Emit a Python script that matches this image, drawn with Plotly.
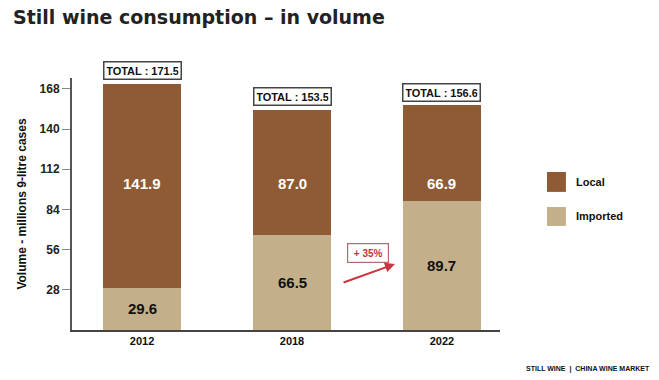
import plotly.graph_objects as go

years = ["2012", "2018", "2022"]
local = [141.9, 87.0, 66.9]
imported = [29.6, 66.5, 89.7]
totals = [171.5, 153.5, 156.6]
series_names = ["Local", "Imported"]
y_ticks = [28, 56, 84, 112, 140, 168]

C_LOCAL = "#8f5b34"
C_IMP = "#c3b08b"
FONT = "Liberation Sans"

fig = go.Figure()
fig.add_trace(go.Bar(x=years, y=imported, name=series_names[1], marker=dict(color=C_IMP, line=dict(width=0))))
fig.add_trace(go.Bar(x=years, y=local, name=series_names[0], marker=dict(color=C_LOCAL, line=dict(width=0))))

ann = []
for i, y in enumerate(years):
    # imported value (centered in segment)
    ann.append(dict(x=i, y=imported[i] / 2, xref="x", yref="y", text=f"{imported[i]:.1f}", showarrow=False,
                    font=dict(family=FONT, size=15, color="#111", weight="bold")))
    # local value (aligned row)
    ann.append(dict(x=i, y=102, xref="x", yref="y", text=f"{local[i]:.1f}", showarrow=False,
                    font=dict(family=FONT, size=15, color="white", weight="bold")))
    # totals box
    ann.append(dict(x=i, y=totals[i], xref="x", yref="y", yshift=13, text=f"TOTAL : {totals[i]:.1f}",
                    showarrow=False, font=dict(family=FONT, size=11, color="#111", weight="bold"),
                    bordercolor="#444", borderwidth=1.5, borderpad=2, bgcolor="white", width=72, height=12))

growth = round((imported[2] / imported[1] - 1) * 100)
ann.append(dict(x=1.51, y=54, xref="x", yref="y", text=f"+ {growth}%", showarrow=False,
                font=dict(family=FONT, size=10, color="#c0363f", weight="bold"),
                bordercolor="#b8676d", borderwidth=1.2, borderpad=3, bgcolor="white", width=34, height=12))
ann.append(dict(x=1.687, y=46, xref="x", yref="y", ax=-53, ay=19, text="", showarrow=True,
                arrowhead=2, arrowsize=1, arrowwidth=2, arrowcolor="#c9363f"))

# legend
shapes = []
leg = [(series_names[0], C_LOCAL, 0.627, 0.548), (series_names[1], C_IMP, 0.488, 0.413)]
for name, col, y0, y1 in leg:
    shapes.append(dict(type="rect", xref="paper", yref="paper", x0=1.1098, x1=1.154, y0=y1, y1=y0,
                       fillcolor=col, line=dict(width=0)))
    ann.append(dict(x=1.173, y=(y0 + y1) / 2, xref="paper", yref="paper", xanchor="left", text=name,
                    showarrow=False, font=dict(family=FONT, size=11, color="#111", weight="bold")))

ann.append(dict(x=(652 - 72) / 428, y=(330 - 369) / 252, xref="paper", yref="paper",
                text="STILL WINE  |  CHINA WINE MARKET",
                showarrow=False, xanchor="right", yanchor="middle",
                font=dict(family=FONT, size=7, color="#111", weight="bold")))

fig.update_layout(
    width=659, height=380,
    margin=dict(l=72, r=159, t=78, b=50, autoexpand=False),
    paper_bgcolor="white", plot_bgcolor="white",
    barmode="stack", bargap=0.48, showlegend=False,
    title=dict(text="Still wine consumption – in volume", x=13 / 659, xanchor="left",
               y=1 - 17 / 380, yanchor="middle", xref="container", yref="container",
               font=dict(family="DejaVu Sans", size=19, color="#222", weight="bold")),
    xaxis=dict(type="category", range=[-0.467, 2.387], showline=True, linecolor="#444", linewidth=2, ticks="",
               tickfont=dict(family=FONT, size=11, color="#111", weight="bold"), showgrid=False,
               fixedrange=True),
    yaxis=dict(range=[0, 175.6], tickvals=y_ticks, showline=True, linecolor="#555", linewidth=2,
               ticks="outside", ticklen=8, tickcolor="#888", tickwidth=1, showgrid=False, zeroline=False,
               tickfont=dict(family=FONT, size=12, color="#222", weight="bold"),
               title=dict(text="Volume - millions 9-litre cases", standoff=10,
                          font=dict(family=FONT, size=12, color="#111", weight="bold"))),
    annotations=ann, shapes=shapes,
)
fig.write_html("out.html", post_script="document.body.style.margin='0';",
               config={"displayModeBar": False})
